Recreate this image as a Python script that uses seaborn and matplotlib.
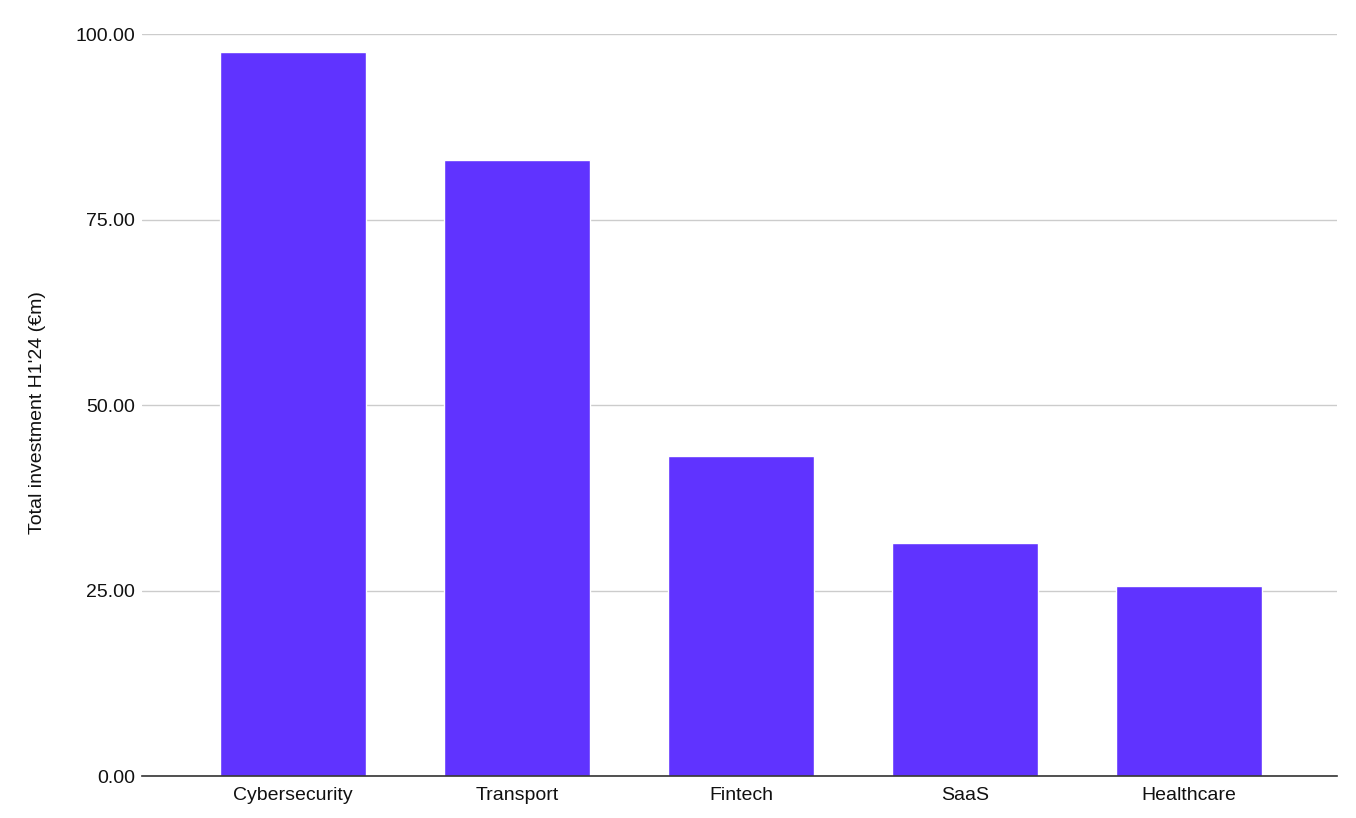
import pandas as pd
import seaborn as sns
import matplotlib.pyplot as plt
from matplotlib.ticker import FormatStrFormatter

# data
sectors = ['Cybersecurity', 'Transport', 'Fintech', 'SaaS', 'Healthcare']
investment = [97.6, 83.0, 43.1, 31.4, 25.6]

df = pd.DataFrame({'sector': sectors, 'investment': investment})

sns.set_style('white')
plt.rcParams['font.family'] = ['Liberation Sans', 'DejaVu Sans']

fig = plt.figure(figsize=(13.56, 8.18), dpi=100)
ax = fig.add_axes([0.1047, 0.0513, 0.8813, 0.9067])

sns.barplot(data=df, x='sector', y='investment', color='#6033FF',
            saturation=1, width=0.65, ax=ax, zorder=3)

ax.set_ylim(0, 100)
ax.set_xlim(-0.674, 4.66)
ax.set_yticks([0, 25, 50, 75, 100])
ax.yaxis.set_major_formatter(FormatStrFormatter('%.2f'))
ax.grid(axis='y', color='#cccccc', linewidth=1, zorder=0)
ax.set_axisbelow(True)

for s in ['top', 'right', 'left']:
    ax.spines[s].set_visible(False)
ax.spines['bottom'].set_color('#333333')
ax.spines['bottom'].set_linewidth(1.2)
ax.spines['bottom'].set_zorder(4)

ax.tick_params(axis='both', length=0, labelsize=14, colors='#111111')
ax.tick_params(axis='y', pad=5)
ax.tick_params(axis='x', pad=8)
ax.set_xlabel('')
ax.set_ylabel("Total investment H1'24 (€m)", fontsize=14, labelpad=21, color='#111111')
ax.yaxis.label.set_y(0.49)

fig.savefig('out.png', dpi=100)
